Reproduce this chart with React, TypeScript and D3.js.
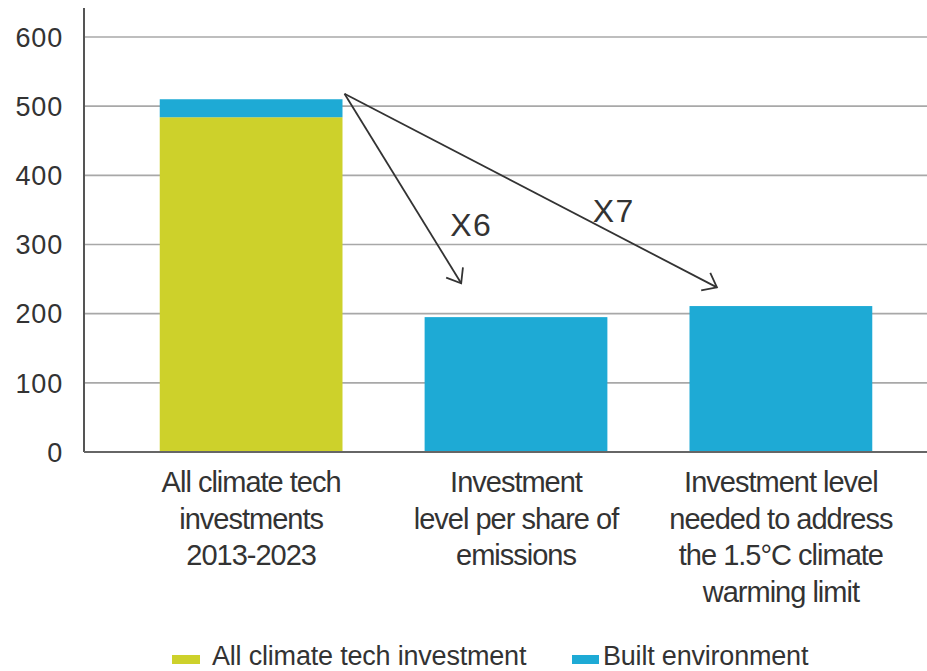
import React from "react";
import * as d3 from "d3";

const categories = [
  ["All climate tech", "investments", "2013-2023"],
  ["Investment", "level per share of", "emissions"],
  ["Investment level", "needed to address", "the 1.5°C climate", "warming limit"],
];
const allClimateValues = [484, 0, 0];
const builtEnvValues = [26, 195, 211];
const yTicks = [0, 100, 200, 300, 400, 500, 600];
const seriesNames = ["All climate tech investment", "Built environment"];
const colors = ["#cdd12b", "#1eaad5"];
const arrows = [
  { label: "X6", endCat: 1, endFrac: 0.2, endValue: 244, labelFrac: 0.14, labelValue: 312 },
  { label: "X7", endCat: 2, endFrac: 0.15, endValue: 238, labelFrac: -0.53, labelValue: 333 },
];

const W = 927;
const H = 671;

export default function App() {
  const x = d3.scaleBand<number>().domain([0, 1, 2]).range([120, 912]).paddingInner(0.31).paddingOuter(0.15);
  const y = d3.scaleLinear().domain([0, 600]).range([452, 37]);
  const axisX = 84;
  const bw = x.bandwidth();

  const startX = (x(0) as number) + bw + 2;
  const startY = y(518);

  const txt = "#333333";
  const font = "'Liberation Sans', Arial, sans-serif";

  return (
    <svg width={W} height={H} style={{ position: "absolute", left: 0, top: 0, background: "#fff" }} fontFamily={font}>
      {/* gridlines */}
      {yTicks.filter((t) => t > 0).map((t) => (
        <line key={t} x1={axisX} x2={W} y1={y(t)} y2={y(t)} stroke="#a8a8a8" strokeWidth={1.6} />
      ))}
      {/* tick labels */}
      {yTicks.map((t) => (
        <text key={t} x={63} y={y(t)} dy="0.36em" textAnchor="end" fontSize={27} fill={txt} letterSpacing={0.8}>
          {t}
        </text>
      ))}
      {/* bars */}
      {categories.map((_, i) => {
        const x0 = x(i) as number;
        const g = allClimateValues[i];
        const b = builtEnvValues[i];
        return (
          <g key={i}>
            {g > 0 && <rect x={x0} width={bw} y={y(g)} height={y(0) - y(g)} fill={colors[0]} />}
            <rect x={x0} width={bw} y={y(g + b)} height={y(g) - y(g + b)} fill={colors[1]} />
          </g>
        );
      })}
      {/* axes */}
      <line x1={axisX} x2={axisX} y1={8} y2={y(0)} stroke="#555" strokeWidth={2} />
      <line x1={axisX} x2={W} y1={y(0)} y2={y(0)} stroke="#666" strokeWidth={2} />
      {/* arrows */}
      {arrows.map((a, i) => {
        const ex = (x(a.endCat) as number) + bw * a.endFrac;
        const ey = y(a.endValue);
        const ang = Math.atan2(ey - startY, ex - startX);
        const len = 16;
        const spread = (38 * Math.PI) / 180;
        const a1 = ang + Math.PI - spread;
        const a2 = ang + Math.PI + spread;
        const lx = (x(a.endCat) as number) + bw * a.labelFrac;
        const ly = y(a.labelValue);
        return (
          <g key={i}>
            <line x1={startX} y1={startY} x2={ex} y2={ey} stroke="#333" strokeWidth={1.8} />
            <polyline
              points={`${ex + len * Math.cos(a1)},${ey + len * Math.sin(a1)} ${ex},${ey} ${ex + len * Math.cos(a2)},${ey + len * Math.sin(a2)}`}
              fill="none"
              stroke="#333"
              strokeWidth={1.8}
            />
            <text x={lx} y={ly} fontSize={32} fill={txt} letterSpacing={1.5}>
              {a.label}
            </text>
          </g>
        );
      })}
      {/* category labels */}
      {categories.map((lines, i) => (
        <text key={i} textAnchor="middle" fontSize={29} fill={txt} letterSpacing={-1}>
          {lines.map((l, j) => (
            <tspan key={j} x={(x(i) as number) + bw / 2} y={492 + j * 36.5}>
              {l}
            </tspan>
          ))}
        </text>
      ))}
      {/* legend */}
      <rect x={172} y={655} width={28} height={9} fill={colors[0]} />
      <text x={212} y={665} fontSize={27} fill={txt} letterSpacing={-0.2}>{seriesNames[0]}</text>
      <rect x={572} y={655} width={27} height={9} fill={colors[1]} />
      <text x={603} y={665} fontSize={27} fill={txt} letterSpacing={-0.2}>{seriesNames[1]}</text>
    </svg>
  );
}
